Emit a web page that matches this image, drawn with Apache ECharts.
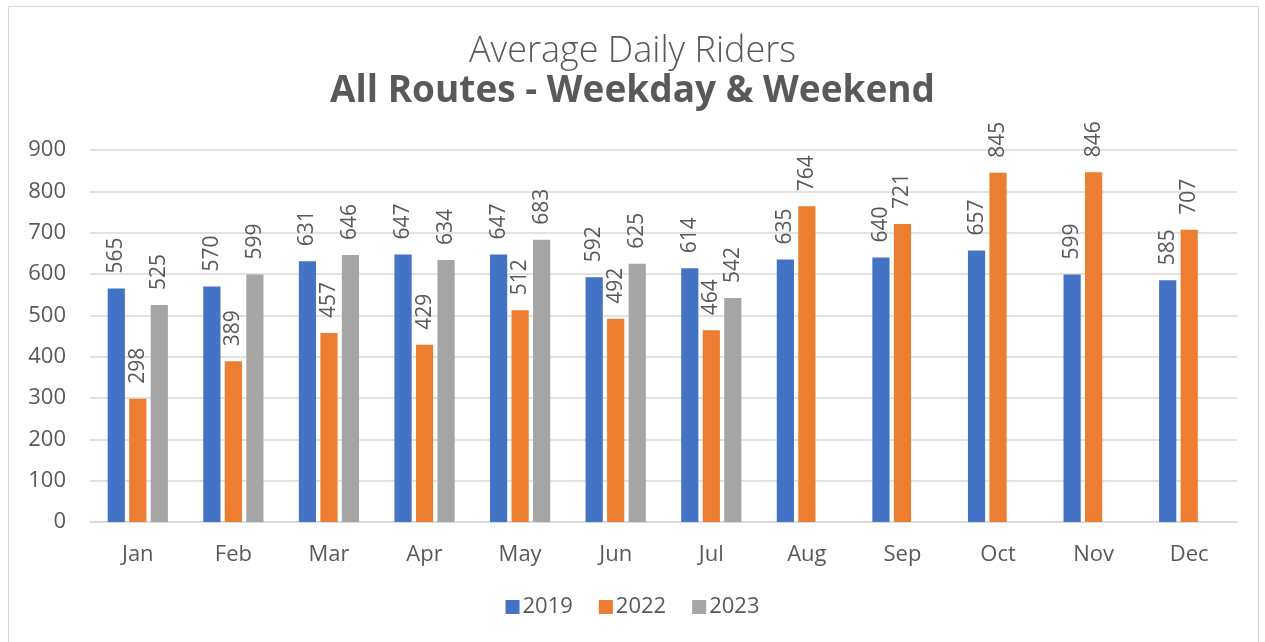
<!DOCTYPE html>
<html><head><meta charset="utf-8">
<script src="https://cdn.jsdelivr.net/npm/echarts@6/dist/echarts.min.js"></script>
<style>html,body{margin:0;padding:0;background:#fff}#c{width:1265px;height:642px}</style>
</head><body><div id="c"></div>
<script>
const months = ['Jan','Feb','Mar','Apr','May','Jun','Jul','Aug','Sep','Oct','Nov','Dec'];
const riders2019 = [565,570,631,647,647,592,614,635,640,657,599,585];
const riders2022 = [298,389,457,429,512,492,464,764,721,845,846,707];
const riders2023 = [525,599,646,634,683,625,542,null,null,null,null,null];
const seriesNames = ['2019','2022','2023'];
const colors = ['#4472C4','#ED7D31','#A5A5A5'];
const FONT = '"Open Sans", Lato, sans-serif';
const chart = echarts.init(document.getElementById('c'));
const label = {show:true, position:'top', rotate:90, align:'left', verticalAlign:'middle', distance:15,
  color:'#595959', fontSize:21, fontFamily:FONT};
const mk = (name, data, color) => ({name, type:'bar', data, itemStyle:{color}, label,
  barGap:'25%', barCategoryGap:'37%'});
chart.setOption({
  animation:false,
  graphic:[{type:'rect', shape:{x:8.5,y:6.5,width:1250,height:640}, style:{fill:'none',stroke:'#d9d9d9',lineWidth:1}}],
  title:[
    {text:'Average Daily Riders', left:'center', top:29, textStyle:{fontFamily:FONT, fontWeight:300, fontSize:36, color:'#595959'}},
    {text:'All Routes - Weekday & Weekend', left:'center', top:68, textStyle:{fontFamily:FONT, fontWeight:'bold', fontSize:37, color:'#595959'}}
  ],
  legend:{data:seriesNames, bottom:19, left:'center', itemWidth:14, itemHeight:14, itemGap:26, icon:'rect',
    textStyle:{fontFamily:FONT, fontSize:22, color:'#595959', padding:[0,0,0,-2]}},
  grid:{left:90, right:28, top:150, bottom:120},
  xAxis:{type:'category', data:months, axisLine:{lineStyle:{color:'#d9d9d9', width:1.5}}, axisTick:{show:false},
    axisLabel:{fontFamily:FONT, fontSize:22, color:'#595959', margin:22}},
  yAxis:{type:'value', min:0, max:900, interval:100, axisLine:{show:false}, axisTick:{show:false},
    splitLine:{lineStyle:{color:'#d9d9d9', width:1.5}},
    axisLabel:{fontFamily:FONT, fontSize:22, color:'#595959', margin:24}},
  series:[mk(seriesNames[0], riders2019, colors[0]), mk(seriesNames[1], riders2022, colors[1]), mk(seriesNames[2], riders2023, colors[2])]
});
</script></body></html>
